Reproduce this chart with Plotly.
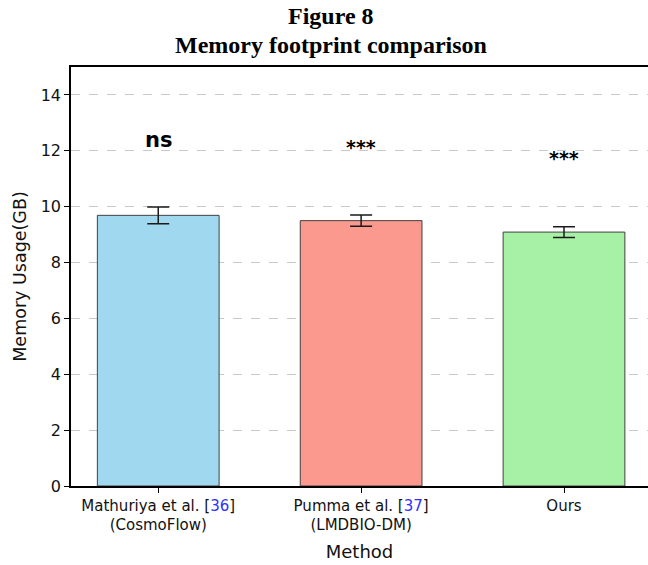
import plotly.graph_objects as go

# Memory footprint per method (GB), mean and error
methods = ["Mathuriya et al. [36]\n(CosmoFlow)", "Pumma et al. [37]\n(LMDBIO-DM)", "Ours"]
tick_labels = [
    "Mathuriya et al. [<span style='color:#3030ff'>36</span>]<br>(CosmoFlow)",
    "Pumma et al. [<span style='color:#3030ff'>37</span>]<br>(LMDBIO-DM)",
    "Ours",
]
memory_gb = [9.69, 9.50, 9.09]
memory_err = [0.30, 0.20, 0.19]
significance = ["ns", "***", "***"]
sig_y = [12.38, 12.15, 11.75]
bar_colors = ["#9FD8EF", "#FB998E", "#A6F1A6"]
y_ticks = [0, 2, 4, 6, 8, 10, 12, 14]

W, H = 648, 565
ML, MR, MT, MB = 71, 0, 67, 79
plot_h = H - MT - MB
plot_w = W - ML - MR

x_pos = list(range(len(methods)))

fig = go.Figure()
fig.add_trace(go.Bar(
    x=x_pos,
    y=memory_gb,
    width=0.6,
    marker=dict(color=bar_colors, line=dict(color="#404040", width=1)),
    error_y=dict(type="data", array=memory_err, visible=True,
                 color="#1a1a1a", thickness=1.5, width=11),
    showlegend=False,
))

annotations = []
for i, (s, yv) in enumerate(zip(significance, sig_y)):
    annotations.append(dict(
        x=i, y=yv, xref="x", yref="y", text=f"<b>{s}</b>", showarrow=False,
        xanchor="center", yanchor="middle",
        font=dict(family="DejaVu Sans", size=21 if s == "ns" else 19, color="black"),
    ))

def paper_y(py):
    return (H - MB - py) / plot_h

title_x = (331 - ML) / plot_w
for txt, py in [("Figure 8", 16), ("Memory footprint comparison", 45)]:
    annotations.append(dict(
        x=title_x, y=paper_y(py), xref="paper", yref="paper",
        text=f"<b>{txt}</b>", showarrow=False, xanchor="center", yanchor="middle",
        font=dict(family="Liberation Serif", size=24, color="black"),
    ))

fig.update_layout(
    width=W, height=H,
    margin=dict(l=ML, r=MR, t=MT, b=MB, pad=0),
    paper_bgcolor="white", plot_bgcolor="white",
    font=dict(family="DejaVu Sans", color="#111"),
    annotations=annotations,
    xaxis=dict(
        range=[-0.43, 2.414],
        tickmode="array", tickvals=x_pos, ticktext=tick_labels,
        tickfont=dict(size=15, color="#111"),
        ticks="outside", ticklen=5, tickwidth=1.2, tickcolor="black",
        showline=True, linecolor="black", linewidth=1.6, mirror=True,
        showgrid=False, zeroline=False,
        title=dict(text="Method", font=dict(size=18), standoff=12),
    ),
    yaxis=dict(
        range=[0, 15],
        tickmode="array", tickvals=y_ticks,
        tickfont=dict(size=16, color="#111"),
        ticks="outside", ticklen=5, tickwidth=1.2, tickcolor="black",
        showline=True, linecolor="black", linewidth=1.6, mirror=False,
        showgrid=True, gridcolor="#c8c8c8", gridwidth=1, griddash="dash",
        zeroline=False,
        title=dict(text="Memory Usage(GB)", font=dict(size=17.5), standoff=10),
    ),
)

fig.write_html("out.html")
